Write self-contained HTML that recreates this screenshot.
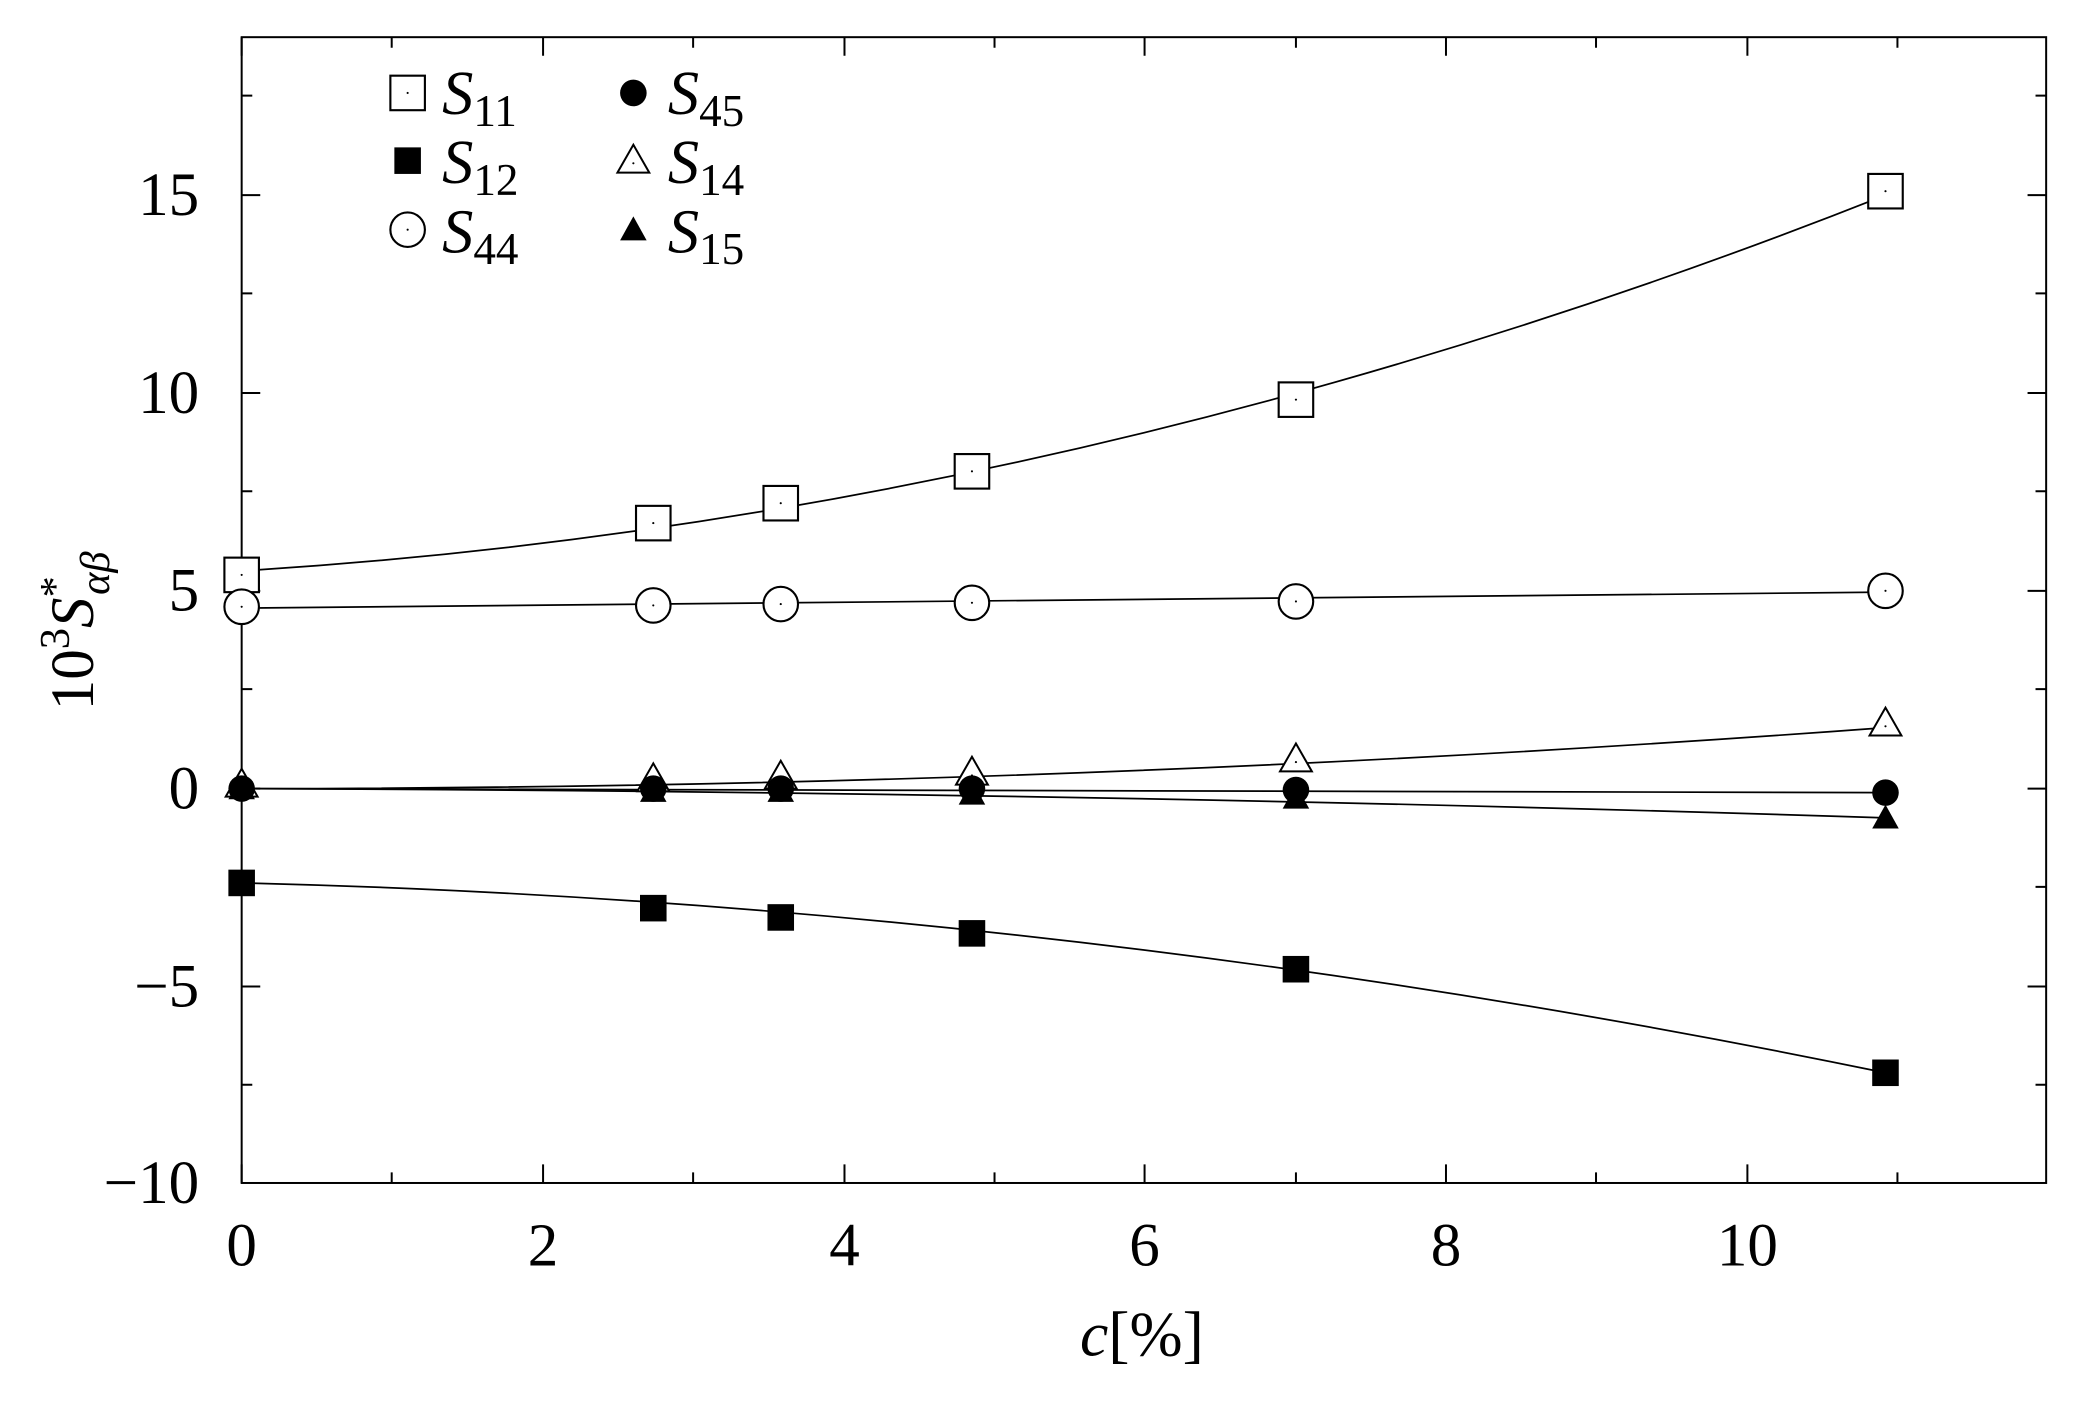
<!DOCTYPE html>
<html><head><meta charset="utf-8"><style>
html,body{margin:0;padding:0;background:#fff;}
svg{display:block;}
text{font-family:"Liberation Serif","DejaVu Serif",serif;fill:#000;}
</style></head><body>
<svg width="2082" height="1414" viewBox="0 0 1568 1065" preserveAspectRatio="none" xmlns="http://www.w3.org/2000/svg">
<defs>
<g id="os"><rect x="-13" y="-13" width="26" height="26" fill="#fff" stroke="#000" stroke-width="1.6"/><circle r="0.8"/></g>
<g id="fs"><rect x="-10" y="-10" width="20" height="20" fill="#000"/></g>
<g id="oc"><circle r="13" fill="#fff" stroke="#000" stroke-width="1.6"/><circle r="0.8"/></g>
<g id="fc"><circle r="10" fill="#000"/></g>
<g id="ot"><polygon points="0,-12 12,9 -12,9" fill="#fff" stroke="#000" stroke-width="1.5"/><circle cy="2" r="0.8"/></g>
<g id="ft"><polygon points="0,-10 10,8 -10,8" fill="#000"/></g>
</defs>
<g fill="none" stroke="#000" stroke-width="1.5">
<rect x="182" y="28" width="1359" height="863"/>
<path d="M182,891v-14M409,891v-14M636,891v-14M862,891v-14M1089,891v-14M1316,891v-14
M182,28v14M409,28v14M636,28v14M862,28v14M1089,28v14M1316,28v14
M295,891v-8M522,891v-8M749,891v-8M976,891v-8M1202,891v-8M1429,891v-8
M295,28v8M522,28v8M749,28v8M976,28v8M1202,28v8M1429,28v8"/>
<path d="M182,147h14M182,296h14M182,445h14M182,594h14M182,743h14
M1541,147h-14M1541,296h-14M1541,445h-14M1541,594h-14M1541,743h-14
M182,72h8M182,221h8M182,370h8M182,519h8M182,668h8M182,817h8
M1541,72h-8M1541,221h-8M1541,370h-8M1541,519h-8M1541,668h-8M1541,817h-8"/>
</g>
<g fill="none" stroke="#000" stroke-width="1.3">
<path d="M182,430 Q801,392 1420,147"/>
<path d="M182,458 L1420,446"/>
<path d="M182,665 Q801,680 1420,808"/>
<path d="M182,594 Q801,594 1420,548"/>
<path d="M182,594 L1420,597"/>
<path d="M182,594 Q801,596 1420,616"/>
</g>
<use href="#os" x="182" y="433"/><use href="#os" x="492" y="394"/><use href="#os" x="588" y="379"/><use href="#os" x="732" y="355"/><use href="#os" x="976" y="301"/><use href="#os" x="1420" y="144"/>
<use href="#oc" x="182" y="457"/><use href="#oc" x="492" y="456"/><use href="#oc" x="588" y="455"/><use href="#oc" x="732" y="454"/><use href="#oc" x="976" y="453"/><use href="#oc" x="1420" y="445"/>
<use href="#ot" x="182" y="591"/><use href="#ot" x="492" y="587"/><use href="#ot" x="588" y="585"/><use href="#ot" x="732" y="582"/><use href="#ot" x="976" y="572"/><use href="#ot" x="1420" y="545"/>
<use href="#ft" x="182" y="594"/><use href="#ft" x="492" y="596"/><use href="#ft" x="588" y="596"/><use href="#ft" x="732" y="598"/><use href="#ft" x="976" y="601"/><use href="#ft" x="1420" y="616"/>
<use href="#fc" x="182" y="594"/><use href="#fc" x="492" y="594"/><use href="#fc" x="588" y="594"/><use href="#fc" x="732" y="594"/><use href="#fc" x="976" y="595"/><use href="#fc" x="1420" y="597"/>
<use href="#fs" x="182" y="665"/><use href="#fs" x="492" y="684"/><use href="#fs" x="588" y="691"/><use href="#fs" x="732" y="703"/><use href="#fs" x="976" y="730"/><use href="#fs" x="1420" y="808"/>
<use href="#os" x="307" y="70"/><use href="#fs" x="307" y="121"/><use href="#oc" x="307" y="173"/>
<use href="#fc" x="477" y="70"/><use href="#ot" x="477" y="121"/><use href="#ft" x="477" y="173"/>
<g font-size="47">
<text x="333" y="86"><tspan font-style="italic">S</tspan><tspan font-size="34" dy="9">11</tspan></text>
<text x="333" y="138"><tspan font-style="italic">S</tspan><tspan font-size="34" dy="9">12</tspan></text>
<text x="333" y="190"><tspan font-style="italic">S</tspan><tspan font-size="34" dy="9">44</tspan></text>
<text x="503" y="86"><tspan font-style="italic">S</tspan><tspan font-size="34" dy="9">45</tspan></text>
<text x="503" y="138"><tspan font-style="italic">S</tspan><tspan font-size="34" dy="9">14</tspan></text>
<text x="503" y="190"><tspan font-style="italic">S</tspan><tspan font-size="34" dy="9">15</tspan></text>
</g>
<g font-size="46" text-anchor="end">
<text x="150" y="162">15</text><text x="150" y="311">10</text><text x="150" y="460">5</text><text x="150" y="609">0</text><text x="150" y="758">−5</text><text x="150" y="906">−10</text>
</g>
<g font-size="46" text-anchor="middle">
<text x="182" y="953">0</text><text x="409" y="953">2</text><text x="636" y="953">4</text><text x="862" y="953">6</text><text x="1089" y="953">8</text><text x="1316" y="953">10</text>
</g>
<text x="860" y="1021" font-size="48" text-anchor="middle"><tspan font-style="italic">c</tspan>[%]</text>
<text transform="translate(70,535) rotate(-90)" font-size="46">10<tspan font-size="32" dy="-18">3</tspan><tspan font-style="italic" dy="18">S</tspan><tspan font-size="32" dy="-18">*</tspan><tspan font-size="32" font-style="italic" dx="-14" dy="30">αβ</tspan></text>
</svg>
</body></html>
